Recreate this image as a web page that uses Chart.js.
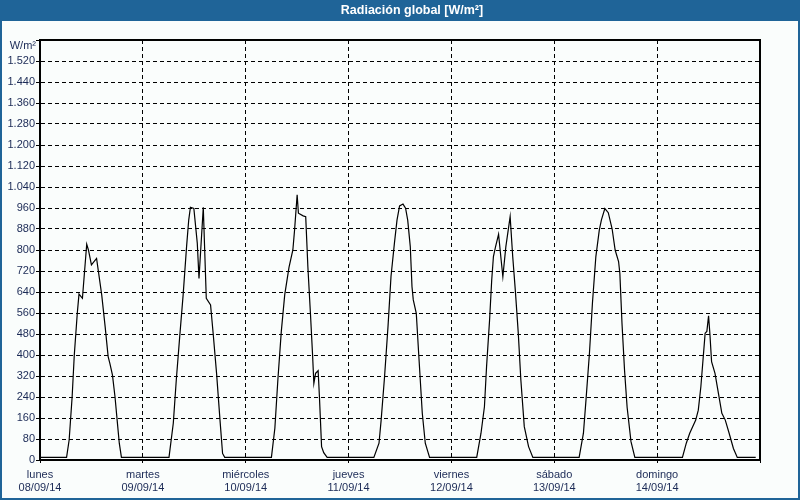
<!DOCTYPE html>
<html>
<head>
<meta charset="utf-8">
<script src="https://cdn.jsdelivr.net/npm/chart.js@4.4.1/dist/chart.umd.min.js"></script>
<style>
html,body{margin:0;padding:0;background:#fafdfc;}
canvas{display:block;}
</style>
</head>
<body>
<canvas id="c" width="800" height="500"></canvas>
<script>
// ---- Data (hours since 08/09/14 00:00 within each day, W/m²) ----
const dayNames = ["lunes", "martes", "miércoles", "jueves", "viernes", "sábado", "domingo"];
const dateLabels = ["08/09/14", "09/09/14", "10/09/14", "11/09/14", "12/09/14", "13/09/14", "14/09/14"];

const lunesHours   = [0, 6.2, 6.8, 7.5, 8.0, 8.7, 9.1, 9.9, 10.9, 11.3, 12.0, 13.2, 14.4, 15.2, 15.9, 16.3, 16.9, 17.5, 18.0, 18.5, 19.0];
const lunesValues  = [10, 10, 76, 241, 400, 559, 632, 616, 822, 800, 743, 768, 629, 508, 394, 368, 324, 241, 152, 64, 10];

const martesHours  = [6.1, 7.1, 7.8, 8.6, 9.4, 10.2, 10.7, 11.1, 11.9, 12.7, 13.1, 13.5, 14.1, 14.4, 14.8, 15.8, 16.4, 17.2, 18.0, 18.6, 19.1];
const martesValues = [10, 140, 305, 470, 629, 813, 914, 963, 958, 826, 692, 800, 963, 813, 616, 591, 483, 330, 152, 25, 10];

const miercolesHours  = [6.0, 6.8, 7.5, 8.3, 9.1, 10.1, 11.0, 11.4, 12.0, 12.3, 13.4, 14.0, 14.5, 15.1, 15.6, 15.9, 16.3, 16.9, 17.2, 17.7, 18.2, 19.0];
const miercolesValues = [10, 121, 305, 489, 629, 734, 800, 876, 1010, 940, 930, 927, 737, 559, 400, 292, 330, 340, 241, 51, 28, 10];

const juevesHours  = [5.9, 7.1, 7.6, 8.4, 9.2, 9.9, 10.7, 11.3, 11.9, 12.7, 13.3, 13.8, 14.4, 14.8, 15.1, 15.8, 16.4, 17.2, 17.9, 18.9];
const juevesValues = [10, 64, 152, 318, 508, 699, 826, 914, 968, 975, 959, 914, 813, 660, 610, 559, 394, 178, 64, 10];

const viernesHours  = [5.9, 6.9, 7.7, 8.2, 8.9, 9.4, 9.8, 10.3, 11.0, 11.6, 12.0, 12.7, 13.7, 14.3, 14.9, 15.6, 16.2, 17.0, 18.0, 19.0];
const viernesValues = [10, 102, 203, 356, 533, 686, 775, 813, 860, 762, 699, 813, 927, 775, 648, 483, 305, 127, 51, 10];

const sabadoHours  = [5.8, 6.8, 7.4, 8.2, 8.9, 9.7, 10.5, 11.0, 11.8, 12.6, 13.5, 14.2, 15.0, 15.3, 15.8, 16.4, 17.0, 17.9, 18.8];
const sabadoValues = [10, 102, 229, 406, 597, 775, 876, 915, 958, 942, 880, 800, 756, 711, 520, 340, 200, 70, 10];

const domingoHours  = [5.9, 6.8, 7.6, 9.0, 9.6, 10.2, 10.7, 11.2, 11.6, 12.0, 12.3, 12.7, 13.5, 14.3, 15.1, 15.9, 16.8, 17.8, 18.7, 23.0];
const domingoValues = [10, 64, 102, 152, 190, 279, 381, 483, 490, 549, 483, 375, 330, 254, 178, 152, 102, 44, 10, 10];

const yTickStep = 80;
const yMax = 1600;
const unitLabel = "W/m²";
const chartTitle = "Radiación global [W/m²]";

// ---- Build points ----
const dayHours  = [lunesHours, martesHours, miercolesHours, juevesHours, viernesHours, sabadoHours, domingoHours];
const dayValues = [lunesValues, martesValues, miercolesValues, juevesValues, viernesValues, sabadoValues, domingoValues];
const points = [];
dayHours.forEach((hrs, d) => hrs.forEach((h, i) => points.push({ x: d * 24 + h, y: dayValues[d][i] })));

const BLUE = '#1f6498';
const LABEL = '#1b2a56';
const FONT = 'Liberation Sans, Arial, sans-serif';

function fmt(v) {
  return String(v).replace(/\B(?=(\d{3})+(?!\d))/g, '.');
}

const decor = {
  id: 'decor',
  beforeDraw(chart) {
    const ctx = chart.ctx;
    ctx.save();
    ctx.fillStyle = '#fafdfc';
    ctx.fillRect(0, 0, 800, 500);
    ctx.restore();
  },
  afterDraw(chart) {
    const ctx = chart.ctx;
    const a = chart.chartArea;
    ctx.save();
    // plot frame
    ctx.strokeStyle = '#000';
    ctx.lineWidth = 2;
    ctx.strokeRect(Math.round(a.left), Math.round(a.top), Math.round(a.right - a.left), Math.round(a.bottom - a.top));
    // title bar and window border
    ctx.fillStyle = BLUE;
    ctx.fillRect(0, 0, 800, 21);
    ctx.fillRect(0, 0, 2, 500);
    ctx.fillRect(798, 0, 2, 500);
    ctx.fillRect(0, 498, 800, 2);
    ctx.fillStyle = '#ffffff';
    ctx.font = 'bold 12.5px ' + FONT;
    ctx.textAlign = 'center';
    ctx.textBaseline = 'middle';
    ctx.fillText(chartTitle, 412, 11);
    // unit label
    ctx.fillStyle = LABEL;
    ctx.font = '11px ' + FONT;
    ctx.textAlign = 'right';
    ctx.fillText(unitLabel, 36, 46);
    ctx.restore();
  }
};

new Chart(document.getElementById('c'), {
  type: 'line',
  data: {
    datasets: [{
      data: points,
      borderColor: '#000',
      borderWidth: 1.2,
      pointRadius: 0,
      tension: 0,
      fill: false
    }]
  },
  options: {
    responsive: false,
    animation: false,
    layout: { padding: { left: 0, right: 40, top: 40, bottom: 0 } },
    plugins: { legend: { display: false }, tooltip: { enabled: false }, title: { display: false } },
    scales: {
      x: {
        type: 'linear',
        min: 0,
        max: 168,
        afterFit(s) { s.height = 40; },
        ticks: {
          stepSize: 24,
          autoSkip: false,
          maxRotation: 0,
          padding: 5,
          color: LABEL,
          font: { family: FONT, size: 11 },
          callback(v) {
            const i = Math.round(v / 24);
            return (i < dayNames.length) ? [dayNames[i], dateLabels[i]] : '';
          }
        },
        grid: { color: '#000', lineWidth: 1, drawTicks: true, tickLength: 3, tickBorderDash: [], tickColor: '#000' },
        border: { display: true, color: '#000', width: 2, dash: [4, 3] }
      },
      y: {
        min: 0,
        max: yMax,
        afterFit(s) { s.width = 40; },
        ticks: {
          stepSize: yTickStep,
          padding: 1,
          color: LABEL,
          font: { family: FONT, size: 11 },
          callback(v) { return v >= yMax ? '' : fmt(v); }
        },
        grid: { color: '#000', lineWidth: 1, drawTicks: true, tickLength: 4, tickBorderDash: [], tickColor: '#000' },
        border: { display: true, color: '#000', width: 2, dash: [4, 3] }
      }
    }
  },
  plugins: [decor]
});
</script>
</body>
</html>
